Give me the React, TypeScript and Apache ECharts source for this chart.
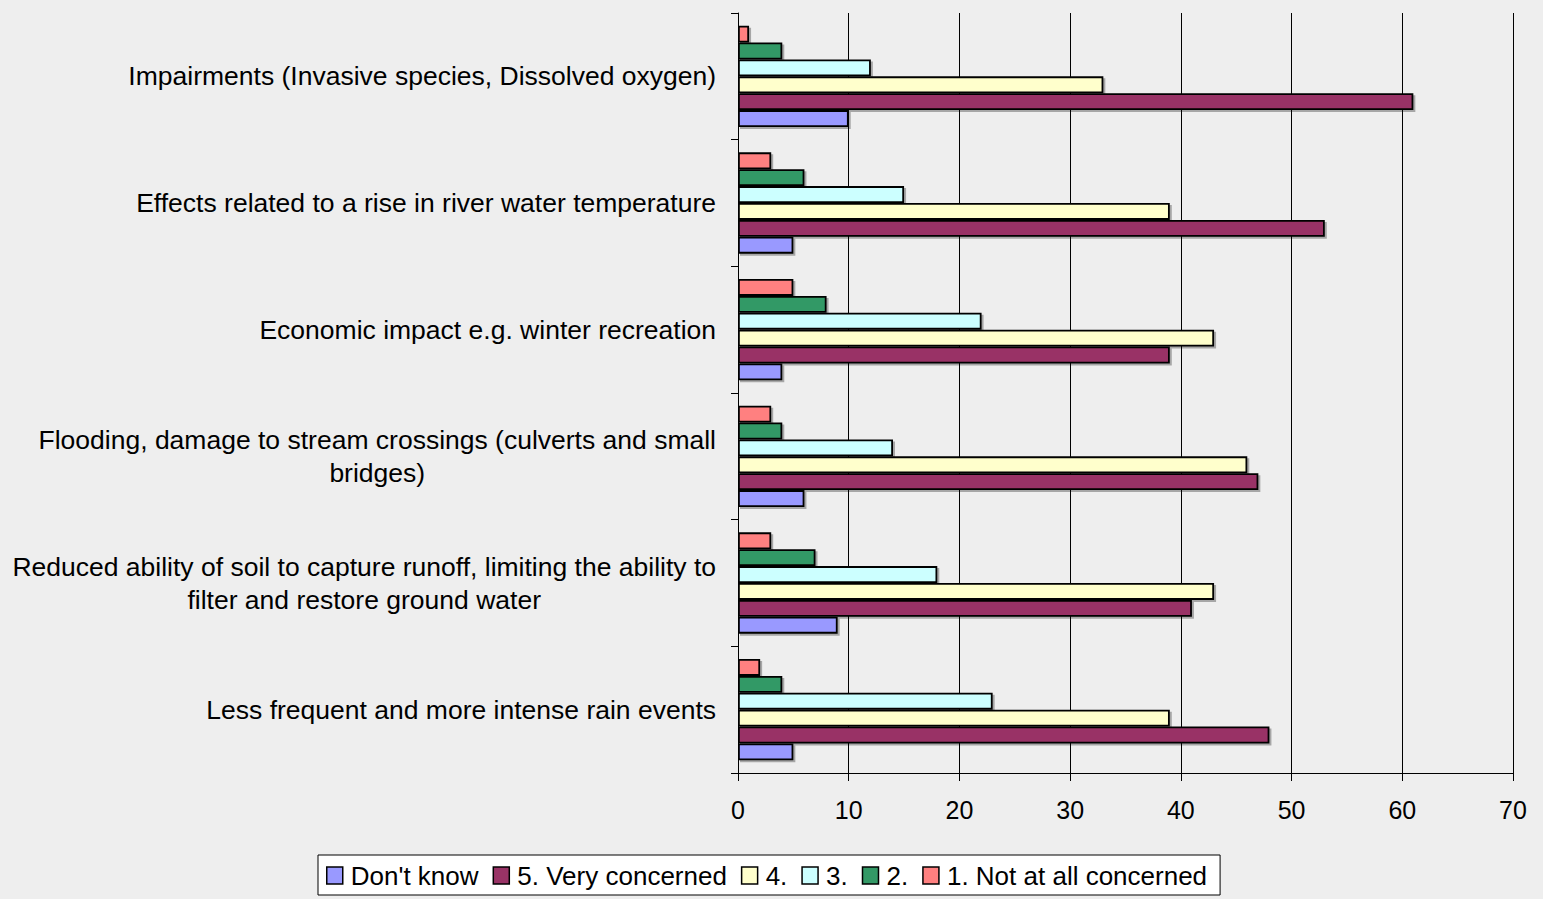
import React, { useEffect, useRef } from "react";
import * as echarts from "echarts";

const categories = [
  "Impairments (Invasive species, Dissolved oxygen)",
  "Effects related to a rise in river water temperature",
  "Economic impact e.g. winter recreation",
  "Flooding, damage to stream crossings (culverts and small\nbridges)",
  "Reduced ability of soil to capture runoff, limiting the ability to\nfilter and restore ground water",
  "Less frequent and more intense rain events",
];

const seriesNames = [
  "Don't know",
  "5. Very concerned",
  "4.",
  "3.",
  "2.",
  "1. Not at all concerned",
];

const dontKnow = [10, 5, 4, 6, 9, 5];
const veryConcerned = [61, 53, 39, 47, 41, 48];
const four = [33, 39, 43, 46, 43, 39];
const three = [12, 15, 22, 14, 18, 23];
const two = [4, 6, 8, 4, 7, 4];
const notAtAll = [1, 3, 5, 3, 3, 2];

const seriesValues = [dontKnow, veryConcerned, four, three, two, notAtAll];
const seriesColors = ["#9999ff", "#993366", "#ffffcc", "#ccffff", "#339966", "#ff8080"];

const xTicks = [0, 10, 20, 30, 40, 50, 60, 70];

const FONT = "Liberation Sans";

export default function App() {
  const ref = useRef<HTMLDivElement>(null);
  useEffect(() => {
    if (!ref.current) return;
    const chart = echarts.init(ref.current, undefined, { renderer: "svg" });
    const order = [5, 4, 3, 2, 1, 0];
    chart.setOption({
      animation: false,
      backgroundColor: "#eeeeee",
      textStyle: { fontFamily: FONT },
      grid: { left: 738, right: 30, top: 13, bottom: 126, containLabel: false },
      legend: {
        data: seriesNames,
        left: 318,
        top: 855,
        backgroundColor: "#ffffff",
        borderColor: "#000000",
        borderWidth: 1,
        borderRadius: 0,
        padding: [6, 13, 5, 8],
        itemWidth: 16,
        itemHeight: 17,
        itemGap: 14,
        icon: "rect",
        textStyle: { fontFamily: FONT, fontSize: 26, color: "#000000", padding: [0, 0, 0, 3], lineHeight: 29 },
        itemStyle: { borderColor: "#000000", borderWidth: 1.5 },
      },
      xAxis: {
        type: "value",
        min: xTicks[0],
        max: xTicks[xTicks.length - 1],
        interval: 10,
        axisLine: { show: true, lineStyle: { color: "#000000", width: 1 } },
        axisTick: { show: true, length: 8, lineStyle: { color: "#000000" } },
        axisLabel: { fontFamily: FONT, fontSize: 25, color: "#000000", margin: 24 },
        splitLine: { show: true, lineStyle: { color: "#000000", width: 1 } },
      },
      yAxis: {
        type: "category",
        data: categories,
        inverse: true,
        axisLine: { show: true, lineStyle: { color: "#000000", width: 1 } },
        axisTick: { show: true, length: 7, lineStyle: { color: "#000000" } },
        axisLabel: {
          fontFamily: FONT,
          fontSize: 26.5,
          color: "#000000",
          margin: 22,
          lineHeight: 33,
          formatter: (v: string) =>
            v.split("\n").map((l) => "{c|" + l + "}").join("\n"),
          rich: { c: { align: "center", fontSize: 26.5, fontFamily: FONT, color: "#000000", lineHeight: 33 } },
        },
      },
      series: order.map((i) => ({
        name: seriesNames[i],
        type: "bar",
        data: seriesValues[i],
        barGap: "0%",
        barCategoryGap: "20%",
        itemStyle: {
          color: seriesColors[i],
          borderColor: "#000000",
          borderWidth: 1.8,
          shadowColor: "rgba(0,0,0,0.3)",
          shadowOffsetX: 2,
          shadowOffsetY: 2,
          shadowBlur: 0,
        },
      })),
    });
    return () => chart.dispose();
  }, []);
  return (
    <div
      ref={ref}
      style={{ position: "absolute", left: 0, top: 0, width: 1543, height: 899 }}
    />
  );
}
